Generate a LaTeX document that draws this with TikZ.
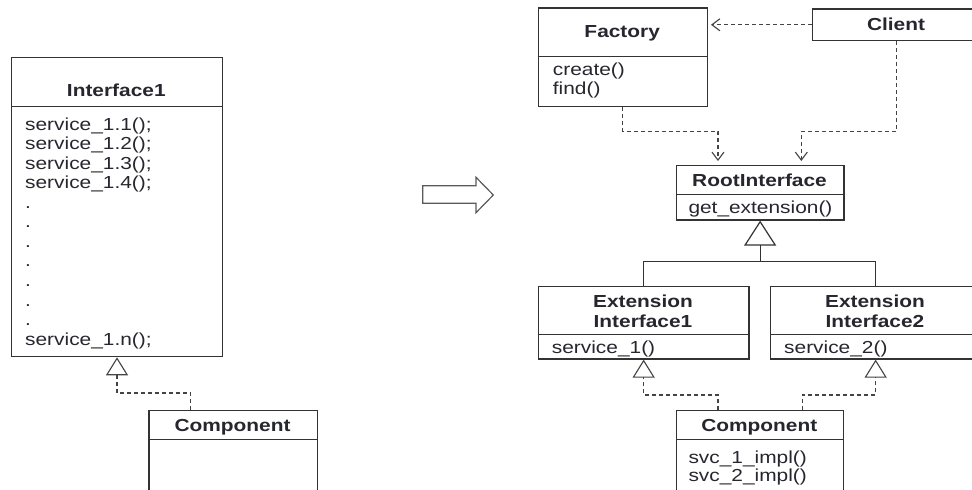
\documentclass[tikz,border=0pt]{standalone}
\usepackage{fontspec}
\setmainfont{Liberation Sans}[FakeStretch=1.2]
\usetikzlibrary{arrows.meta}
\definecolor{ink}{HTML}{26262E}
\definecolor{edge}{HTML}{333333}
\definecolor{dashc}{HTML}{444444}
\definecolor{outline}{HTML}{5A5A5A}
\begin{document}
\begin{tikzpicture}[x=1pt,y=-1pt,
  box/.style={draw=edge,line width=1.3pt,fill=white,rectangle,inner sep=0pt,anchor=north west},
  sep/.style={draw=edge,line width=1pt},
  title/.style={font=\fontsize{17.4}{20}\selectfont\bfseries,text=ink,inner sep=0pt,anchor=base},
  member/.style={font=\fontsize{17.4}{20}\selectfont,text=ink,inner sep=0pt,anchor=base west},
  dep/.style={draw=dashc,line width=1.2pt,dash pattern=on 4pt off 3pt,
    -{Straight Barb[length=8pt,width=12pt,line width=1.1pt]}},
  real/.style={draw=dashc,line width=1.2pt,dash pattern=on 4pt off 3pt,
    -{Triangle[open,length=18pt,width=22pt,line width=1.1pt]}},
  inh/.style={draw=edge,line width=1.2pt},
]
\useasboundingbox (0,0) rectangle (972,490);
\clip (0,0) rectangle (972,490);
\fill[white] (0,0) rectangle (972,490);

% ---------- left side: one wide interface ----------
\node[box,minimum width=210.7pt,minimum height=299pt] (iface) at (11,57) {};
\draw[sep] (iface.west |- 0,106) -- (iface.east |- 0,106);
\node[title] (ifaceT) at (116.3,96.7) {Interface1};
\node[member] (m1) at (25,130) {service\_1.1();};
\node[member] (m2) at (25,149.6) {service\_1.2();};
\node[member] (m3) at (25,169.1) {service\_1.3();};
\node[member] (m4) at (25,188.7) {service\_1.4();};
\node[member] (d1) at (25,208.2) {.};
\node[member] (d2) at (25,227.8) {.};
\node[member] (d3) at (25,247.3) {.};
\node[member] (d4) at (25,266.9) {.};
\node[member] (d5) at (25,286.4) {.};
\node[member] (d6) at (25,306.0) {.};
\node[member] (d7) at (25,325.5) {.};
\node[member] (mn) at (25,345) {service\_1.n();};

\node[box,minimum width=168.4pt,minimum height=120pt] (comp1) at (148.3,410) {};
\draw[sep] (comp1.west |- 0,439.3) -- (comp1.east |- 0,439.3);
\node[title] (comp1T) at (232.5,431.7) {Component};

\draw[real] ([xshift=-42.5pt]comp1.north) -- ++(0,-17) -| (iface.south);

% ---------- transition arrow ----------
\draw[draw=outline,line width=1.2pt,fill=white,line join=miter]
  (422.7,185.7) -- (476,185.7) -- (476,177.3) -- (493.3,195)
  -- (476,212.7) -- (476,203.3) -- (422.7,203.3) -- cycle;

% ---------- right side: extension interfaces ----------
\node[box,minimum width=169pt,minimum height=98.7pt] (factory) at (537.7,7.3) {};
\draw[sep] (factory.west |- 0,56.7) -- (factory.east |- 0,56.7);
\node[title] (factoryT) at (622.2,37.7) {Factory};
\node[member] (f1) at (552.7,75.7) {create()};
\node[member] (f2) at (552.7,94.7) {find()};

\node[box,minimum width=168.6pt,minimum height=31.7pt] (client) at (811.7,8.3) {};
\node[title] (clientT) at (896,30) {Client};

\node[box,minimum width=167.6pt,minimum height=54.3pt] (root) at (675.7,165) {};
\draw[sep] (root.west |- 0,194.3) -- (root.east |- 0,194.3);
\node[title] (rootT) at (759.5,186.7) {RootInterface};
\node[member] (r1) at (688.3,213) {get\_extension()};

\node[box,minimum width=210.6pt,minimum height=72.3pt] (ext1) at (537.7,286) {};
\draw[sep] (ext1.west |- 0,334.3) -- (ext1.east |- 0,334.3);
\node[title] (ext1a) at (643,307.3) {Extension};
\node[title] (ext1b) at (643,327.3) {Interface1};
\node[member] (e1) at (551.7,353) {service\_1()};

\node[box,minimum width=210pt,minimum height=72.3pt] (ext2) at (770,286) {};
\draw[sep] (ext2.west |- 0,334.3) -- (ext2.east |- 0,334.3);
\node[title] (ext2a) at (875,307.3) {Extension};
\node[title] (ext2b) at (875,327.3) {Interface2};
\node[member] (e2) at (784,353) {service\_2()};

\node[box,minimum width=166.7pt,minimum height=120pt] (comp2) at (676,410) {};
\draw[sep] (comp2.west |- 0,439.3) -- (comp2.east |- 0,439.3);
\node[title] (comp2T) at (759.3,431.7) {Component};
\node[member] (c1) at (688.3,463) {svc\_1\_impl()};
\node[member] (c2) at (688.3,481.5) {svc\_2\_impl()};

% ---------- connectors ----------
\draw[dep,shorten >=3pt] (client.west) -- (client.west -| factory.east);
\draw[dep,shorten >=4pt] (factory.south) -- ++(0,24) -| ([xshift=-42.2pt]root.north);
\draw[dep,shorten >=4pt] (client.south) -- ++(0,90) -| ([xshift=41.2pt]root.north);

\coordinate (join) at (root.south |- 0,261.7);
\draw[inh] (ext1.north) |- (join) -| (ext2.north);
\draw[inh,-{Triangle[open,length=25pt,width=32pt,line width=1.2pt]}] (join) -- (root.south);

\draw[real] ([xshift=-42pt]comp2.north) -- ++(0,-15) -| (ext1.south);
\draw[real] ([xshift=42.4pt]comp2.north) -- ++(0,-15) -| (ext2.south);
\end{tikzpicture}
\end{document}
